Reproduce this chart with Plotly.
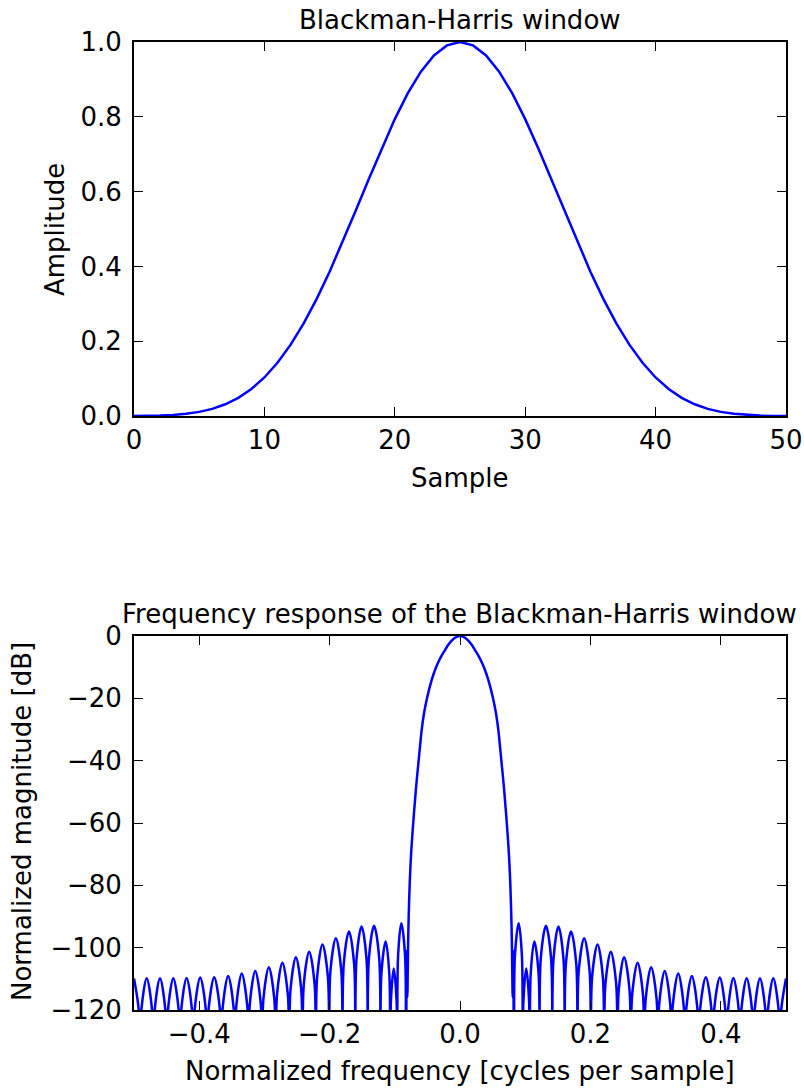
import plotly.graph_objects as go

W, H = 804, 1088

# Blackman-Harris window, 51 samples
sample = list(range(51))
amplitude = [
    0.0001, 0.0003, 0.0011, 0.0028, 0.0058, 0.0110, 0.0191, 0.0313, 0.0486, 0.0721,
    0.1030, 0.1422, 0.1901, 0.2471, 0.3126, 0.3859, 0.4653, 0.5487, 0.6333, 0.7161,
    0.7938, 0.8631, 0.9207, 0.9640, 0.9909, 1.0000, 0.9909, 0.9640, 0.9207, 0.8631,
    0.7938, 0.7161, 0.6333, 0.5487, 0.4653, 0.3859, 0.3126, 0.2471, 0.1901, 0.1422,
    0.1030, 0.0721, 0.0486, 0.0313, 0.0191, 0.0110, 0.0058, 0.0028, 0.0011, 0.0003,
    0.0001,
]

# frequency response, positive half (the curve is symmetric)
# main lobe
freq_main = [0.0, 0.006, 0.012, 0.018, 0.023, 0.029, 0.0342, 0.039, 0.0434, 0.0501,
             0.0552, 0.0588, 0.0625, 0.0675, 0.0716, 0.0751, 0.0771, 0.0787, 0.0797, 0.0805]
db_main = [0.0, -0.35, -1.3, -2.8, -4.5, -6.6, -8.8, -11.3, -14.1, -19.5,
           -24.8, -30.2, -38.0, -48.9, -59.6, -70.3, -79.3, -90.0, -100.0, -113.6]
# side lobes (nulls go below the -120 floor of the axis)
freq_side = [
    0.0809, 0.0815, 0.0830,
    0.0843, 0.0900, 0.0949, 0.0962,
    0.0973, 0.1016, 0.1059, 0.1070,
    0.1085, 0.1140, 0.1205, 0.1220,
    0.1240, 0.1318, 0.1396, 0.1416,
    0.1435, 0.1510, 0.1586, 0.1605,
    0.1625, 0.1703, 0.1782, 0.1802,
    0.1822, 0.1904, 0.1986, 0.2006,
    0.2027, 0.2109, 0.2190, 0.2211,
    0.2231, 0.2313, 0.2395, 0.2415,
    0.2436, 0.2517, 0.2599, 0.2620,
    0.2641, 0.2724, 0.2806, 0.2827,
    0.2848, 0.2932, 0.3015, 0.3036,
    0.3057, 0.3140, 0.3222, 0.3243,
    0.3264, 0.3347, 0.3430, 0.3451,
    0.3472, 0.3556, 0.3640, 0.3661,
    0.3683, 0.3770, 0.3856, 0.3878,
    0.3899, 0.3985, 0.4069, 0.4090,
    0.4111, 0.4193, 0.4275, 0.4295,
    0.4315, 0.4397, 0.4479, 0.4499,
    0.4519, 0.4601, 0.4683, 0.4703,
    0.4723, 0.4805, 0.4887, 0.4907,
    0.4927, 0.5000,
]
db_side = [
    -116.0, -101.0, -135.0,
    -102.4, -92.2, -102.4, -135.0,
    -116.9, -106.7, -116.9, -135.0,
    -108.2, -98.0, -108.2, -135.0,
    -103.2, -93.0, -103.2, -135.0,
    -103.4, -93.2, -103.4, -135.0,
    -105.0, -94.8, -105.0, -135.0,
    -107.2, -97.0, -107.2, -135.0,
    -109.2, -99.0, -109.2, -135.0,
    -111.5, -101.3, -111.5, -135.0,
    -113.3, -103.1, -113.3, -135.0,
    -115.0, -104.8, -115.0, -135.0,
    -116.5, -106.3, -116.5, -135.0,
    -117.7, -107.5, -117.7, -135.0,
    -118.5, -108.3, -118.5, -135.0,
    -119.3, -109.1, -119.3, -135.0,
    -119.7, -109.5, -119.7, -135.0,
    -119.8, -109.6, -119.8, -135.0,
    -119.9, -109.7, -119.9, -135.0,
    -120.0, -109.8, -120.0, -135.0,
    -120.0, -109.8, -120.0, -135.0,
    -120.0, -109.8, -120.0, -135.0,
    -120.0, -109.9,
]

pos_f = freq_main + freq_side
pos_db = db_main + db_side
freq = [-f for f in reversed(pos_f[1:])] + pos_f
response = list(reversed(pos_db[1:])) + pos_db

FONT = "DejaVu Sans"
BLUE = "#0000ff"
FS = 26


def px_x(p):
    return p / W


def px_y(p):
    return 1 - p / H


fig = go.Figure()
fig.add_trace(go.Scatter(x=sample, y=amplitude, mode="lines",
                         line=dict(color=BLUE, width=2.5), xaxis="x", yaxis="y"))
fig.add_trace(go.Scatter(x=freq, y=response, mode="lines",
                         line=dict(color=BLUE, width=2.5, shape="spline", smoothing=1),
                         xaxis="x2", yaxis="y2"))

ax_style = dict(showline=True, linecolor="black", linewidth=2, mirror="ticks",
                ticks="inside", ticklen=9, tickwidth=1.2, tickcolor="black",
                showgrid=False, zeroline=False,
                tickfont=dict(family=FONT, size=FS, color="black"))

x0, x1 = px_x(134), px_x(786)
fig.update_layout(
    width=W, height=H,
    margin=dict(l=0, r=0, t=0, b=0, autoexpand=False),
    paper_bgcolor="white", plot_bgcolor="white",
    showlegend=False,
    xaxis=dict(domain=[x0, x1], range=[0, 50], tickvals=[0, 10, 20, 30, 40, 50],
               anchor="y", **ax_style),
    yaxis=dict(domain=[px_y(416), px_y(42)], range=[0, 1],
               tickvals=[0, 0.2, 0.4, 0.6, 0.8, 1.0], tickformat=".1f",
               ticklabelstandoff=5, anchor="x", **ax_style),
    xaxis2=dict(domain=[x0, x1], range=[-0.5, 0.5], tickvals=[-0.4, -0.2, 0, 0.2, 0.4],
                tickformat=".1f", anchor="y2", **ax_style),
    yaxis2=dict(domain=[px_y(1010), px_y(636)], range=[-120, 0],
                tickvals=[-120, -100, -80, -60, -40, -20, 0],
                ticklabelstandoff=5, anchor="x2", **ax_style),
)


def label(text, px, py, angle=0):
    fig.add_annotation(text=text, x=px_x(px), y=px_y(py), xref="paper", yref="paper",
                       showarrow=False, textangle=angle, xanchor="center", yanchor="middle",
                       font=dict(family=FONT, size=FS, color="black"))


label("Blackman-Harris window", 460, 20)
label("Sample", 460, 478)
label("Amplitude", 55, 229, -90)
label("Frequency response of the Blackman-Harris window", 460, 614)
label("Normalized frequency [cycles per sample]", 460, 1071)
label("Normalized magnitude [dB]", 22, 822, -90)

# drop the page's default body margin so the figure fills the window exactly
fig.write_html("out.html", config={"displayModeBar": False},
               post_script="document.body.style.margin='0';document.body.style.overflow='hidden';")
